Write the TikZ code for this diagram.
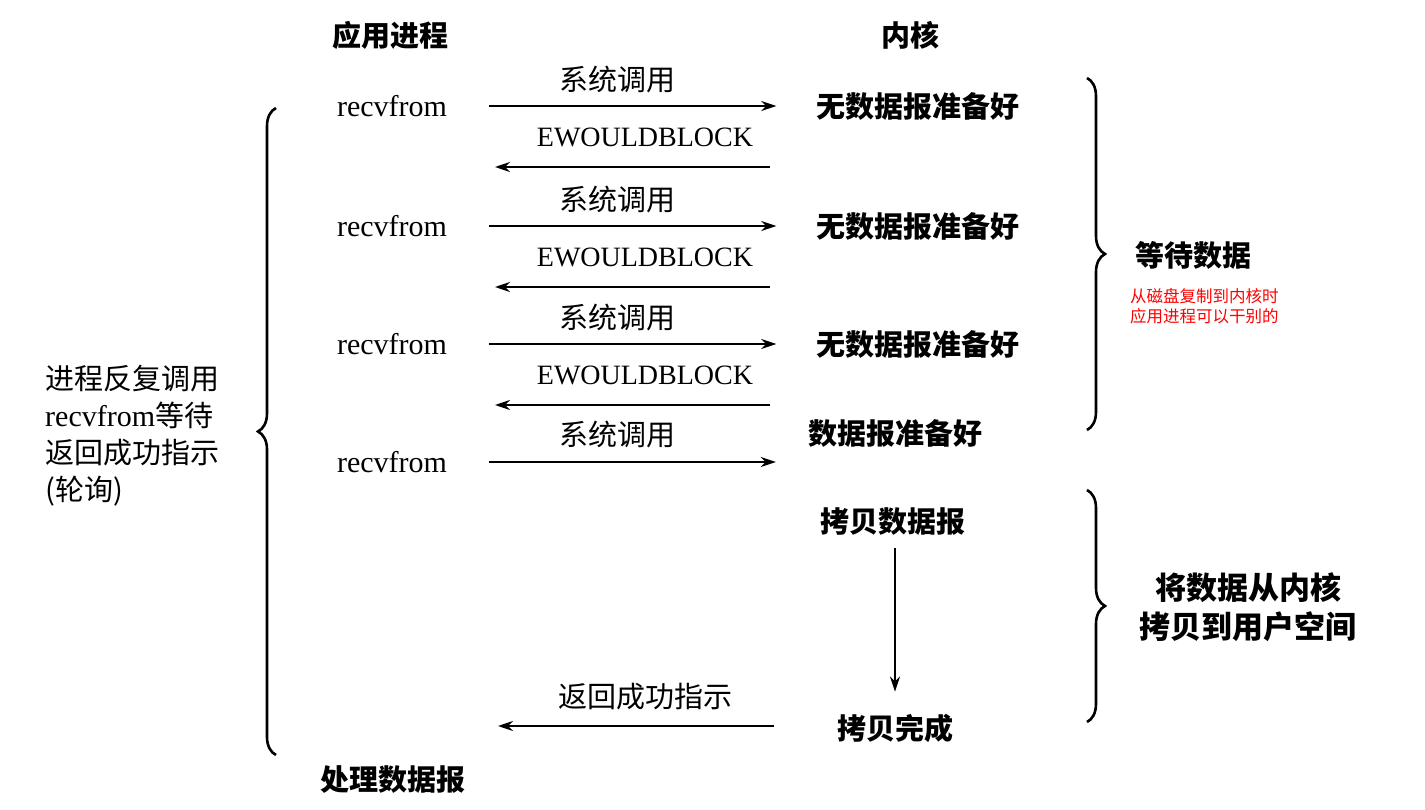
\documentclass[tikz,border=0pt]{standalone}
\usepackage{fontspec}
\setmainfont{Liberation Serif}
\newfontfamily\cjk{Noto Sans CJK SC}
\usepackage{tikz}
\usetikzlibrary{arrows.meta}
\usetikzlibrary{decorations.pathreplacing}
\tikzset{
  wenzi/.style={font=\cjk\fontsize{29}{35}\selectfont, inner sep=0pt},
  cuti/.style={font=\cjk\bfseries\fontsize{29}{35}\selectfont, inner sep=0pt},
  yingwen/.style={font=\rmfamily\fontsize{#1}{35}\selectfont, inner sep=0pt},
  yingwen/.default=30,
  jiantou/.style={-{Stealth[length=15pt,width=10pt]}, line width=2pt},
  kuohao/.style={decorate, decoration={brace, amplitude=18pt}, line width=2.6pt},
}
\begin{document}
\begin{tikzpicture}[x=1pt, y=-1pt]
  \useasboundingbox (0,0) rectangle (1425,810);
  \node[cuti] (yyjc) at (390,35) {应用进程};
  \node[cuti] (neihe) at (910,35) {内核};
  % three polling rounds
  \foreach \i/\y in {1/106, 2/226, 3/344} {
    \node[yingwen] (r\i) at (392,\y) {recvfrom};
    \node[cuti] (k\i) at (918,\y) {无数据报准备好};
    \node[wenzi] (x\i) at (617,\y-27) {系统调用};
    \node[yingwen=28] (e\i) at (645,\y+31) {EWOULDBLOCK};
    \draw[jiantou, shorten <=42pt, shorten >=40pt] (r\i.east) -- (k\i.west);
    \coordinate (ea\i) at (770,\y+61);
    \coordinate (eb\i) at (495,\y+61);
    \draw[jiantou] (ea\i) -- (eb\i);
  }
  % last call
  \node[yingwen] (r4) at (392,462) {recvfrom};
  \node[cuti] (k4) at (895,433) {数据报准备好};
  \node[wenzi] (x4) at (617,434) {系统调用};
  \draw[jiantou, shorten <=42pt, shorten >=32pt] (r4.east) -- (r4.east -| k4.west);
  % copy
  \node[cuti] (kbsj) at (893,522) {拷贝数据报};
  \node[cuti] (kbwc) at (895,728) {拷贝完成};
  \draw[jiantou, shorten <=12pt, shorten >=22pt] (kbsj.south -| kbwc.north) -- (kbwc.north);
  \node[wenzi] (fhcg) at (645,697) {返回成功指示};
  \coordinate (fh) at (498,726);
  \draw[jiantou, shorten <=63pt] (kbwc.west |- fh) -- (fh);
  \node[cuti] (clsj) at (393,780) {处理数据报};
  % left side
  \draw[kuohao] (276,755) -- (276,108);
  \node[wenzi, anchor=west, align=left, font=\cjk\fontsize{29}{37}\selectfont] (lunxun) at (45,436)
    {进程反复调用\\{\rmfamily\fontsize{30}{37}\selectfont recvfrom}等待\\返回成功指示\\(轮询)};
  % right side
  \draw[kuohao] (1087,78) -- (1087,430);
  \node[cuti, anchor=west] (ddsj) at (1135,255) {等待数据};
  \node[wenzi, anchor=west, align=left, text=red, font=\cjk\fontsize{16.5}{20}\selectfont] (beizhu) at (1130,306)
    {从磁盘复制到内核时\\应用进程可以干别的};
  \draw[kuohao] (1087,490) -- (1087,722);
  \node[cuti, align=center, font=\cjk\bfseries\fontsize{31}{39}\selectfont] (kbsj2) at (1248,607)
    {将数据从内核\\拷贝到用户空间};
\end{tikzpicture}
\end{document}
